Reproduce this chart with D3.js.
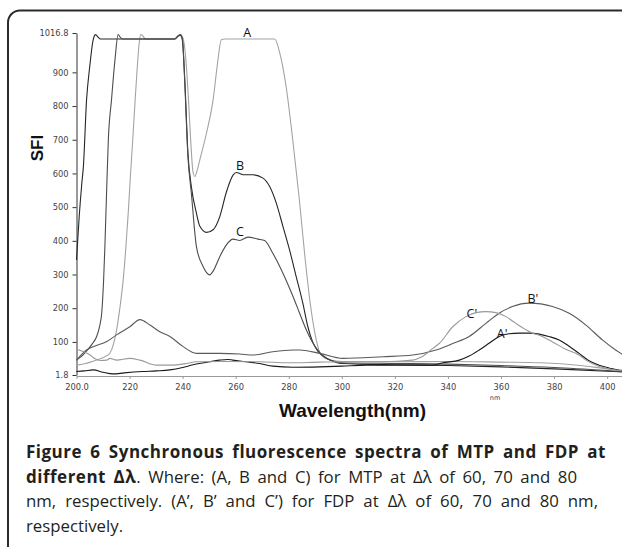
<html>
	<head>
		<title>Synchronous fluorescence spectra</title>
		<style>
			body {
				margin:0;
				background:#fff;
			}
			.tick text {
				font-family:"DejaVu Sans";
				font-size:8.3px;
				fill:#444;
			}
			.caption text {
				font-family:"Open Sans";
				font-size:16.8px;
				fill:#231f20;
			}
			.bold {
				font-weight:bold;
				font-size:17px;
				letter-spacing:0.5px;
			}
		</style>
	</head>
	<body>
		<svg></svg>
		<script src="https://d3js.org/d3.v7.min.js"></script>
		<script>
			const width = 622;
			const height = 547;

			// axis ticks
			const xTicks = [200, 220, 240, 260, 280, 300, 320, 340, 360, 380, 400];
			const yTicks = [1.8, 100, 200, 300, 400, 500, 600, 700, 800, 900, 1016.8];

			// MTP spectra, [wavelength nm, SFI]
			const mtpA = [[200,31],[203,35],[206,42],[209,50],[211,57],[212.6,67],[214,95],[215.1,135],[216.5,210],[217.6,284],[218.6,380],[219.5,483],[220.3,590],[221.2,700],[222,805],[222.9,915],[223.6,985],[224.2,1012],[225,1008],[226,999],[237,999],[238.3,1006],[239.3,1010],[240.2,1000],[241.2,940],[242.2,820],[243.1,690],[243.9,605],[244.6,591],[245.5,610],[246.5,641],[249,720],[251.5,819],[253,917],[254.6,997],[256,999],[274.7,999],[276.6,958],[279,858],[281.5,700],[284,522],[286,360],[288,220],[290,120],[291.6,70],[293,55],[296,46],[300,42],[320,41],[340,42],[360,40],[375,38],[390,30],[400,20],[406,16]];
			const mtpB = [[200,343],[201,470],[202,570],[202.6,621],[203.8,819],[205,918],[206.3,997],[207.2,1012],[208.2,1004],[209,999],[237,999],[238.3,1008],[239,1011],[239.8,1000],[240.8,880],[242,660],[243.3,560],[245.2,482],[246.5,443],[249,425],[251.5,433],[254,472],[256.5,545],[259,595],[260.3,603],[261.5,600],[262.8,596],[266.5,596],[270.3,586],[272.8,561],[275.3,512],[277.8,443],[280.3,373],[282.8,294],[285.3,215],[287.2,145],[289,100],[291,72],[293,58],[296,45],[300,36],[320,32],[340,30],[360,26],[380,20],[400,13],[406,11]];
			const mtpC = [[200,46],[202,58],[204,75],[206,95],[207.6,116],[208.8,150],[209.5,185],[210.2,280],[210.7,383],[211.4,560],[212,700],[213.2,819],[214.5,937],[215.7,1012],[216.5,1004],[217.5,999],[237,999],[238.5,1010],[239.3,1012],[240,995],[240.8,870],[242,650],[243.3,540],[245.2,383],[247.7,324],[250.2,299],[251.5,310],[254,353],[256.5,388],[259,405],[261.5,401],[264.6,411],[268.4,405],[270.9,401],[274,363],[277.8,304],[281.6,235],[284.1,185],[286.6,136],[288.5,105],[290.5,80],[292,66],[294,52],[297,42],[300,38],[320,36],[340,34],[360,30],[380,24],[400,15],[406,12]];

			// FDP spectra
			const fdpA = [[200,12],[203,14],[206.3,17],[210,10],[213.8,5],[218,8],[225,12],[230,14],[235.2,17],[240,24],[243.9,32],[248,38],[253.9,46],[257,48],[258.9,46],[263.9,41],[269,36],[274,28],[281.6,25],[291.6,26],[300,28],[309.2,31],[320,31],[334.3,31],[338,38],[344.3,46],[348,58],[351.8,76],[355.5,96],[359.3,116],[363,124],[367,126],[370.7,126],[374.4,123],[378,116],[381.9,106],[385.5,88],[389.4,66],[393,45],[397,31],[401,22],[404.5,16],[406,15]];
			const fdpB = [[200,46],[203.8,76],[206.3,86],[211.4,101],[215.1,121],[220.1,145],[223.9,166],[227.7,150],[231.4,130],[235.2,116],[240.2,86],[245.2,66],[254,66],[261.5,64],[266.5,61],[274,71],[281.6,76],[284.1,76],[291.6,66],[300.4,51],[315.5,56],[326.7,61],[335.5,76],[341.8,95],[348,116],[354.3,155],[359.3,185],[364.3,205],[370.6,215],[375,213],[379.4,205],[385.7,185],[392,150],[398.2,106],[403.2,76],[406,62]];
			const fdpC = [[200,78],[203,70],[205,62],[207,50],[209,45],[211.4,46],[212.6,51],[215.1,46],[220.1,51],[223.9,46],[230.2,31],[235.2,31],[241.5,36],[245.2,41],[255,42],[269,41],[280,38],[291.6,40],[300,41],[315,41],[326.7,46],[330,55],[334.3,81],[336.8,96],[341.8,145],[346.8,175],[350.6,187],[354.3,190],[358.1,187],[361.9,175],[365.6,155],[369,138],[371.9,126],[374.4,120],[379.4,100],[384.4,78],[389.4,61],[392,46],[397,27],[400.5,20],[404.5,15],[406,14]];

			const seriesData = [mtpA, mtpB, mtpC, fdpA, fdpB, fdpC];
			const seriesColors = ["#a3a3a3", "#262626", "#4d4d4d", "#1a1a1a", "#5a5a5a", "#9a9a9a"];

			// curve labels: [name, wavelength, SFI] (baseline of the letter)
			const curveLabels = [["A",264.3,1004],["B",261.6,611],["C",261.6,414],["C'",349,171],["B'",372,216],["A'",360.4,112]];

			// caption lines: [bold part, regular part, right edge]
			const captionLines = [
				["Figure 6 Synchronous fluorescence spectra of MTP and FDP at", "", 606],
				["different \u0394\u03bb", ". Where: (A, B and C) for MTP at \u0394\u03bb of 60, 70 and 80", 577],
				["", "nm, respectively. (A\u2019, B\u2019 and C\u2019) for FDP at \u0394\u03bb of 60, 70 and 80 nm,", 598],
				["", "respectively.", 0]
			];

			const svg = d3.select("svg")
				.attr("width", width)
				.attr("height", height);

			// frame with rounded corner
			svg.append("rect")
				.attr("x", 8)
				.attr("y", 10.5)
				.attr("width", 700)
				.attr("height", 600)
				.attr("rx", 12)
				.attr("fill", "none")
				.attr("stroke", "#2b2b2b")
				.attr("stroke-width", 2);

			const x = d3.scaleLinear()
				.domain([200, 405.6])
				.range([76.5, 622]);

			const y = d3.scaleLinear()
				.domain([1.8, 1016.8])
				.range([375, 33]);

			// y axis
			const gY = svg.append("g")
				.attr("transform", `translate(${x(200)},0)`)
				.call(d3.axisLeft(y).tickValues(yTicks)
					.tickFormat(d => (d == 1.8 || d == 1016.8) ? String(d) : d3.format("d")(d))
					.tickSize(4).tickSizeOuter(0).tickPadding(4));
			gY.select(".domain").attr("stroke", "#333");
			gY.selectAll(".tick line").attr("stroke", "#333");

			// x axis
			const gX = svg.append("g")
				.attr("transform", `translate(0,${y(1.8) + 1})`)
				.call(d3.axisBottom(x).tickValues(xTicks)
					.tickFormat(d => d == 200 ? "200.0" : d3.format("d")(d))
					.tickSize(3).tickSizeOuter(0).tickPadding(5));
			gX.select(".domain").attr("stroke", "#999");
			gX.selectAll(".tick line").attr("stroke", "#999");

			const line = d3.line()
				.x(d => x(d[0]))
				.y(d => y(d[1]))
				.curve(d3.curveMonotoneX);

			svg.append("g")
				.selectAll("path")
				.data(seriesData)
				.join("path")
				.attr("d", line)
				.attr("fill", "none")
				.attr("stroke", (d, i) => seriesColors[i])
				.attr("stroke-width", 1.1);

			svg.append("g")
				.selectAll("text")
				.data(curveLabels)
				.join("text")
				.attr("x", d => x(d[1]))
				.attr("y", d => y(d[2]))
				.attr("text-anchor", "middle")
				.style("font-family", "Open Sans")
				.style("font-size", "12.5px")
				.style("fill", "#111")
				.text(d => d[0]);

			// axis titles
			svg.append("text")
				.attr("transform", "translate(43,148) rotate(-90)")
				.attr("text-anchor", "middle")
				.style("font-family", "Liberation Sans")
				.style("font-weight", "bold")
				.style("font-size", "17px")
				.style("fill", "#111")
				.text("SFI");

			svg.append("text")
				.attr("x", 352.5)
				.attr("y", 417)
				.attr("text-anchor", "middle")
				.style("font-family", "Liberation Sans")
				.style("font-weight", "bold")
				.style("font-size", "19px")
				.style("fill", "#111")
				.text("Wavelength(nm)");

			svg.append("text")
				.attr("x", x(360) - 6)
				.attr("y", 399.5)
				.attr("text-anchor", "middle")
				.style("font-family", "DejaVu Sans")
				.style("font-size", "6.5px")
				.style("fill", "#444")
				.text("nm");

			// caption, word gaps stretched to reach each line's right edge
			const capLeft = 26, capTop = 458, capStep = 24.5;
			const caption = svg.append("g").attr("class", "caption");

			captionLines.forEach((ln, li) => {
				// words made of [text, bold] segments
				const words = [];
				if (ln[0]) ln[0].split(" ").forEach(w => words.push([[w, true]]));
				if (ln[1]) {
					ln[1].split(" ").forEach((w, i) => {
						if (i == 0 && words.length && !ln[1].startsWith(" ")) words[words.length - 1].push([w, false]);
						else words.push([[w, false]]);
					});
				}
				const yy = capTop + li * capStep;
				const nodes = words.map(wd => {
					const t = caption.append("text").attr("y", yy);
					wd.forEach(s => t.append("tspan").attr("class", s[1] ? "bold" : null).text(s[0]));
					return t;
				});
				const widths = nodes.map(t => t.node().getComputedTextLength());
				const total = d3.sum(widths);
				const space = ln[2] ? (ln[2] - capLeft - total) / (words.length - 1) : 4.5;
				let cx = capLeft;
				nodes.forEach((t, i) => {
					t.attr("x", cx);
					cx += widths[i] + space;
				});
			});
		</script>
	</body>
</html>
